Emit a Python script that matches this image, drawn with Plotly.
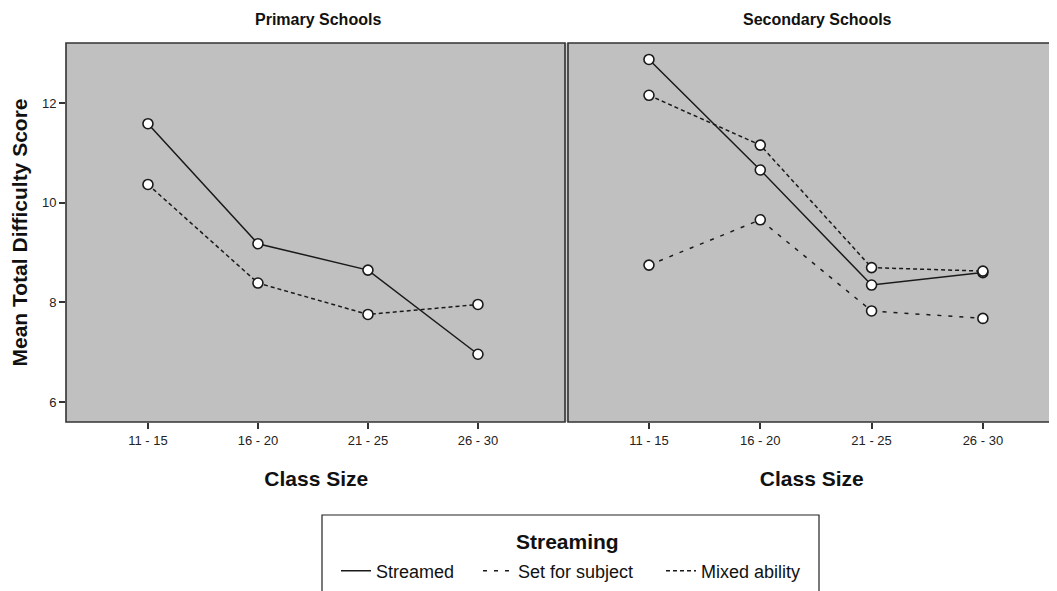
import plotly.graph_objects as go

# Class size groups (x axis) and mean scores
categories = ["11 - 15", "16 - 20", "21 - 25", "26 - 30"]

primary_streamed = [11.59, 9.18, 8.65, 6.96]
primary_mixed = [10.37, 8.39, 7.76, 7.96]

secondary_streamed = [12.88, 10.66, 8.35, 8.60]
secondary_set = [8.75, 9.66, 7.83, 7.68]
secondary_mixed = [12.16, 11.16, 8.70, 8.63]

y_ticks = [6, 8, 10, 12]

FONT = "Liberation Sans, Arial, sans-serif"
INK = "#1a1a1a"

# the page body adds an 8px margin, so the figure is 8px smaller and
# all positions below are given in the reference picture's pixels
OFF = 8
W, H = 1057 - OFF, 591 - OFF
L, R, T, B = 66 - OFF, 0, 43 - OFF, 591 - 422
pw = W - L - R
ph = H - T - B


def px_x(x):
    return (x - OFF - L) / pw


def px_y(y):
    return (H - B - (y - OFF)) / ph


dashes = {
    "Streamed": "solid",
    "Set for subject": "4px,7px",
    "Mixed ability": "4px,3px",
}
legend_ids = {"Streamed": "legend", "Set for subject": "legend2",
              "Mixed ability": "legend3"}

fig = go.Figure()

panels = [
    ("x", "y", {"Streamed": primary_streamed, "Mixed ability": primary_mixed}),
    ("x2", "y2", {"Streamed": secondary_streamed,
                  "Set for subject": secondary_set,
                  "Mixed ability": secondary_mixed}),
]

shown = set()
for xa, ya, series in panels:
    for name, vals in series.items():
        fig.add_trace(go.Scatter(
            x=categories, y=vals, xaxis=xa, yaxis=ya,
            mode="lines", name=name, legend=legend_ids[name],
            showlegend=name not in shown,
            line=dict(color=INK, width=1.5, dash=dashes[name]),
        ))
        shown.add(name)
# markers on top of the lines
for xa, ya, series in panels:
    for name, vals in series.items():
        fig.add_trace(go.Scatter(
            x=categories, y=vals, xaxis=xa, yaxis=ya,
            mode="markers", showlegend=False,
            marker=dict(symbol="circle", size=10, color="white",
                        line=dict(color=INK, width=1.6)),
        ))

split = px_x(566.5)
axis_common = dict(
    showgrid=False, zeroline=False, showline=False,
    ticks="outside", ticklen=6, tickwidth=1.5, tickcolor="#333",
    tickfont=dict(family=FONT, size=13, color="#222"),
)
xtitle = dict(text="<b>Class Size</b>", standoff=24,
              font=dict(family=FONT, size=21, color="#111"))

legend_common = dict(
    orientation="h", xanchor="left", yanchor="middle",
    font=dict(family=FONT, size=18, color="#111"),
    bgcolor="rgba(0,0,0,0)", borderwidth=0, itemwidth=30,
)

fig.update_layout(
    width=W, height=H,
    margin=dict(l=L, r=R, t=T, b=B),
    paper_bgcolor="white",
    plot_bgcolor="#c0c0c0",
    font=dict(family=FONT, color="#111"),
    xaxis=dict(domain=[0, split], type="category", range=[-0.745, 3.805],
               title=xtitle, **axis_common),
    xaxis2=dict(domain=[split, 1], type="category", range=[-0.741, 3.666],
                anchor="y2", title=xtitle, **axis_common),
    yaxis=dict(range=[5.6, 13.21], tickvals=y_ticks,
               title=dict(text="<b>Mean Total Difficulty Score</b>", standoff=10,
                          font=dict(family=FONT, size=21, color="#111")),
               **axis_common),
    yaxis2=dict(range=[5.6, 13.21], anchor="x2", showticklabels=False,
                showgrid=False, zeroline=False, ticks=""),
    legend=dict(x=px_x(336), y=px_y(571), **legend_common),
    legend2=dict(x=px_x(478), y=px_y(571), **legend_common),
    legend3=dict(x=px_x(661), y=px_y(571), **legend_common),
    showlegend=True,
)

# panel frames (secondary runs off the right edge) and the legend box
fig.add_shape(type="rect", xref="paper", yref="paper",
              x0=0, x1=px_x(565), y0=0, y1=1,
              line=dict(color="#333", width=1.6))
fig.add_shape(type="rect", xref="paper", yref="paper",
              x0=px_x(568), x1=1.02, y0=0, y1=1,
              line=dict(color="#333", width=1.6))
fig.add_shape(type="rect", xref="paper", yref="paper",
              x0=px_x(322), x1=px_x(819), y0=px_y(515), y1=px_y(610),
              line=dict(color="#222", width=1.2), fillcolor="rgba(0,0,0,0)")

# legend heading and panel titles
fig.add_annotation(text="<b>Streaming</b>", xref="paper", yref="paper",
                   x=px_x(567), y=px_y(541), showarrow=False,
                   xanchor="center", yanchor="middle",
                   font=dict(family=FONT, size=21, color="#111"))
for label, cx in [("Primary Schools", 318), ("Secondary Schools", 817)]:
    fig.add_annotation(text=f"<b>{label}</b>", xref="paper", yref="paper",
                       x=px_x(cx), y=px_y(19), showarrow=False,
                       xanchor="center", yanchor="middle",
                       font=dict(family=FONT, size=16, color="#111"))

fig.write_html("out.html")
